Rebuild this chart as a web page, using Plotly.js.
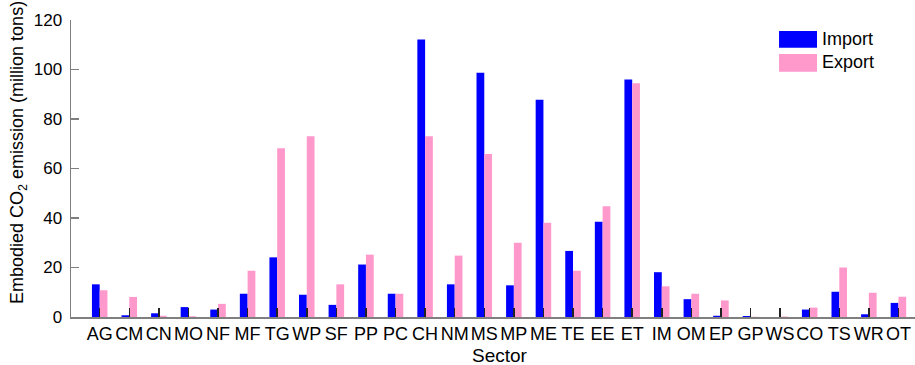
<!DOCTYPE html>
<html>
<head>
<meta charset="utf-8">
<script src="https://cdn.plot.ly/plotly-3.0.1.min.js"></script>
<style>
  html, body { margin: 0; padding: 0; background: #fff; }
  #chart { width: 915px; height: 365px; }
</style>
</head>
<body>
<div id="chart"></div>
<script>
// Sector codes along the horizontal axis
const sectors = ['AG','CM','CN','MO','NF','MF','TG','WP','SF','PP','PC','CH','NM','MS',
                 'MP','ME','TE','EE','ET','IM','OM','EP','GP','WS','CO','TS','WR','OT'];

// Embodied CO2 emission, million tons
const importVals = [13.2, 0.7, 1.5, 4.0, 3.0, 9.4, 24.1, 9.0, 4.9, 21.2, 9.4, 112.1, 13.2, 98.7,
                    12.8, 87.8, 26.7, 38.5, 96.0, 18.1, 7.2, 0.5, 0.4, 0.0, 3.0, 10.2, 1.1, 5.7];
const exportVals = [10.8, 8.1, 0.5, 0.3, 5.3, 18.7, 68.2, 73.0, 13.2, 25.2, 9.4, 73.0, 24.8, 65.9,
                    30.0, 38.1, 18.7, 44.7, 94.4, 12.4, 9.4, 6.7, 0.1, 0.2, 3.8, 20.0, 9.8, 8.2];

const yTicks = [0, 20, 40, 60, 80, 100, 120];
const seriesNames = ['Import', 'Export'];
const seriesColors = ['#0000ff', '#ff99cc'];

const idx = sectors.map((_, i) => i);

const traces = [
  { type: 'bar', name: seriesNames[0], x: idx, y: importVals,
    marker: { color: seriesColors[0], line: { width: 0 } }, showlegend: false, hoverinfo: 'x+y' },
  { type: 'bar', name: seriesNames[1], x: idx, y: exportVals,
    marker: { color: seriesColors[1], line: { width: 0 } }, showlegend: false, hoverinfo: 'x+y' }
];

const font = 'Liberation Sans, Arial, Helvetica, sans-serif';

// Key in the upper right corner: swatches plus labels
const keyShapes = [
  { type: 'rect', xref: 'paper', yref: 'paper', x0: 0.8389, x1: 0.8839, y0: 0.9067, y1: 0.963,
    fillcolor: seriesColors[0], line: { width: 0 } },
  { type: 'rect', xref: 'paper', yref: 'paper', x0: 0.8389, x1: 0.8839, y0: 0.826, y1: 0.8855,
    fillcolor: seriesColors[1], line: { width: 0 } }
];
const notes = [
  { xref: 'paper', yref: 'paper', x: 0.8874, y: 0.936, xanchor: 'left', yanchor: 'middle',
    text: seriesNames[0], showarrow: false, font: { family: font, size: 18, color: '#000' } },
  { xref: 'paper', yref: 'paper', x: 0.8874, y: 0.8586, xanchor: 'left', yanchor: 'middle',
    text: seriesNames[1], showarrow: false, font: { family: font, size: 18, color: '#000' } },
  // vertical axis title, set a little above the plot's middle
  { xref: 'paper', yref: 'paper', x: -0.0616, y: 0.5522, xanchor: 'center', yanchor: 'middle',
    textangle: -90, showarrow: false, borderpad: 0,
    text: 'Embodied CO<sub>2</sub> emission (million tons)',
    font: { family: font, size: 18, color: '#000' } },
  // horizontal axis title
  { xref: 'paper', yref: 'paper', x: 0.508, y: -0.128, xanchor: 'center', yanchor: 'middle',
    showarrow: false, text: 'Sector', borderpad: 0,
    font: { family: font, size: 19, color: '#000' } }
];

const layout = {
  width: 915, height: 365,
  margin: { l: 71, r: 0, t: 20, b: 48, pad: 0 },
  paper_bgcolor: '#fff', plot_bgcolor: '#fff',
  barmode: 'group', bargap: 0.475, bargroupgap: 0,
  font: { family: font, size: 17, color: '#000' },
  xaxis: {
    range: [-0.97, 27.56],
    tickmode: 'array', tickvals: idx, ticktext: sectors,
    tickangle: 0,
    ticks: 'inside', ticklen: 9, tickwidth: 1.5, tickcolor: '#222',
    showline: true, linecolor: '#7f7f7f', linewidth: 1.5,
    showgrid: false, zeroline: false,
    tickfont: { family: font, size: 18, color: '#000' }
  },
  yaxis: {
    range: [0, 120],
    tickmode: 'array', tickvals: yTicks,
    ticks: 'inside', ticklen: 8, tickwidth: 1.5, tickcolor: '#7f7f7f',
    showline: true, linecolor: '#7f7f7f', linewidth: 1.5,
    showgrid: false, zeroline: false,
    ticklabelstandoff: 4,
    tickfont: { family: font, size: 17, color: '#000' }
  },
  shapes: keyShapes,
  annotations: notes
};

Plotly.newPlot('chart', traces, layout, { displayModeBar: false, staticPlot: true });
</script>
</body>
</html>
